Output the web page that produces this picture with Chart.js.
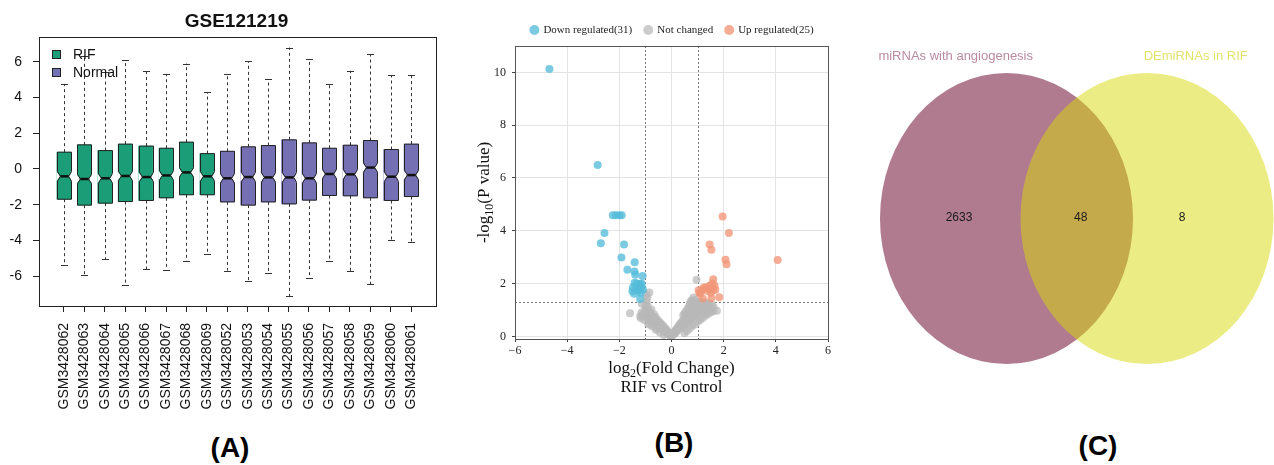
<!DOCTYPE html>
<html>
<head>
<meta charset="utf-8">
<script src="https://cdn.jsdelivr.net/npm/chart.js@4.4.0/dist/chart.umd.min.js"></script>
<style>
  body { margin: 0; background: #fff; width: 1274px; height: 465px; position: relative; overflow: hidden; }
  canvas { position: absolute; top: 0; }
  #boxChart { left: 0; }
  #volcanoChart { left: 460px; }
  #vennChart { left: 850px; }
  .tag { position: absolute; width: 80px; text-align: center; font: bold 28px "Liberation Sans", Arial, sans-serif; line-height: 32px; }
</style>
</head>
<body>
<canvas id="boxChart" width="450" height="420"></canvas>
<canvas id="volcanoChart" width="390" height="420"></canvas>
<canvas id="vennChart" width="424" height="420"></canvas>
<div class="tag" style="left:190px;top:432px">(A)</div>
<div class="tag" style="left:634px;top:427px">(B)</div>
<div class="tag" style="left:1058px;top:430px">(C)</div>

<script>
// ---- (A) expression boxplot, GSE121219 ----
const samples = ['GSM3428062', 'GSM3428063', 'GSM3428064', 'GSM3428065', 'GSM3428066', 'GSM3428067',
  'GSM3428068', 'GSM3428069', 'GSM3428052', 'GSM3428053', 'GSM3428054', 'GSM3428055', 'GSM3428056',
  'GSM3428057', 'GSM3428058', 'GSM3428059', 'GSM3428060', 'GSM3428061'];
const rifCount = 8;
const upperWhisker = [4.76, 6.3, 5.45, 6.07, 5.49, 5.32, 5.89, 4.31, 5.29, 6.02, 5.02, 6.79, 6.13, 4.76, 5.49, 6.41, 5.23, 5.27];
const q3 = [0.94, 1.35, 1.03, 1.39, 1.28, 1.16, 1.50, 0.86, 0.99, 1.24, 1.31, 1.63, 1.46, 1.16, 1.33, 1.59, 1.09, 1.39];
const medians = [-0.41, -0.56, -0.52, -0.39, -0.45, -0.36, -0.19, -0.41, -0.52, -0.45, -0.47, -0.47, -0.52, -0.28, -0.30, 0.08, -0.43, -0.34];
const q1 = [-1.69, -2.02, -1.91, -1.82, -1.76, -1.61, -1.44, -1.44, -1.84, -2.02, -1.84, -1.95, -1.74, -1.48, -1.50, -1.61, -1.76, -1.54];
const lowerWhisker = [-5.36, -5.94, -5.06, -6.49, -5.6, -5.64, -5.14, -4.74, -5.68, -6.26, -5.81, -7.12, -6.09, -5.16, -5.72, -6.45, -3.99, -4.09];
const boxTicks = [-6, -4, -2, 0, 2, 4, 6];
const notchHalf = 0.27;

const rifBoxes = [];
const normalBoxes = [];
samples.forEach((s, i) => {
  const item = { x: i + 1, y: [q1[i], q3[i]] };
  (i < rifCount ? rifBoxes : normalBoxes).push(item);
});

const sansFont = '"Liberation Sans", Arial, sans-serif';
const serifFont = '"Liberation Serif", "Times New Roman", serif';

// whiskers, notches, outlines and medians on top of the floating bars
const boxPlot = {
  id: 'boxPlot',
  afterDatasetsDraw(chart) {
    const { ctx, chartArea: a, scales: { y } } = chart;
    ctx.save();
    chart.data.datasets.forEach((ds, di) => {
      chart.getDatasetMeta(di).data.forEach((bar, j) => {
        const i = ds.data[j].x - 1;
        const cx = Math.round(bar.x) + 0.5;
        const hw = bar.width / 2;
        const inset = hw * 0.4;
        const top = y.getPixelForValue(q3[i]);
        const bot = y.getPixelForValue(q1[i]);
        const med = y.getPixelForValue(medians[i]);
        const nTop = y.getPixelForValue(medians[i] + notchHalf);
        const nBot = y.getPixelForValue(medians[i] - notchHalf);
        const hi = y.getPixelForValue(upperWhisker[i]);
        const lo = y.getPixelForValue(lowerWhisker[i]);

        ctx.strokeStyle = '#333';
        ctx.lineWidth = 1;
        ctx.setLineDash([3, 3]);
        ctx.beginPath();
        ctx.moveTo(cx, top); ctx.lineTo(cx, hi);
        ctx.moveTo(cx, bot); ctx.lineTo(cx, lo);
        ctx.stroke();
        ctx.setLineDash([]);
        ctx.beginPath();
        ctx.moveTo(cx - hw / 2, Math.round(hi) + 0.5); ctx.lineTo(cx + hw / 2, Math.round(hi) + 0.5);
        ctx.moveTo(cx - hw / 2, Math.round(lo) + 0.5); ctx.lineTo(cx + hw / 2, Math.round(lo) + 0.5);
        ctx.stroke();

        ctx.fillStyle = '#fff';
        ctx.beginPath();
        ctx.moveTo(cx - hw - 1, nTop); ctx.lineTo(cx - hw + inset, med); ctx.lineTo(cx - hw - 1, nBot);
        ctx.closePath();
        ctx.moveTo(cx + hw + 1, nTop); ctx.lineTo(cx + hw - inset, med); ctx.lineTo(cx + hw + 1, nBot);
        ctx.closePath();
        ctx.fill();

        ctx.strokeStyle = '#222';
        ctx.beginPath();
        ctx.moveTo(cx - hw, top); ctx.lineTo(cx + hw, top); ctx.lineTo(cx + hw, nTop);
        ctx.lineTo(cx + hw - inset, med); ctx.lineTo(cx + hw, nBot); ctx.lineTo(cx + hw, bot);
        ctx.lineTo(cx - hw, bot); ctx.lineTo(cx - hw, nBot); ctx.lineTo(cx - hw + inset, med);
        ctx.lineTo(cx - hw, nTop);
        ctx.closePath();
        ctx.stroke();

        ctx.lineWidth = 2.5;
        ctx.strokeStyle = '#111';
        ctx.beginPath();
        ctx.moveTo(cx - hw + inset, med); ctx.lineTo(cx + hw - inset, med);
        ctx.stroke();
      });
    });

    // frame, title and legend
    ctx.lineWidth = 1;
    ctx.strokeStyle = '#222';
    ctx.strokeRect(Math.round(a.left) + 0.5, Math.round(a.top) + 0.5, Math.round(a.right - a.left), Math.round(a.bottom - a.top));
    ctx.fillStyle = '#111';
    ctx.font = 'bold 19px ' + sansFont;
    ctx.textAlign = 'center';
    ctx.textBaseline = 'middle';
    ctx.fillText('GSE121219', (a.left + a.right) / 2 - 1, 22);

    ctx.font = '14px ' + sansFont;
    ctx.textAlign = 'left';
    chart.data.datasets.forEach((ds, k) => {
      const ly = 55 + k * 18;
      ctx.fillStyle = ds.backgroundColor;
      ctx.fillRect(52.5, ly - 4.5, 8, 8);
      ctx.strokeStyle = '#222';
      ctx.strokeRect(52.5, ly - 4.5, 8, 8);
      ctx.fillStyle = '#111';
      ctx.fillText(ds.label, 73, ly);
    });
    ctx.restore();
  }
};

new Chart(document.getElementById('boxChart'), {
  type: 'bar',
  data: {
    datasets: [
      { label: 'RIF', data: rifBoxes, backgroundColor: '#1b9e77' },
      { label: 'Normal', data: normalBoxes, backgroundColor: '#7570b3' }
    ]
  },
  options: {
    responsive: false,
    animation: false,
    layout: { padding: { top: 37, right: 14, left: 0, bottom: 0 } },
    datasets: { bar: { grouped: false, barThickness: 14, borderWidth: 0 } },
    plugins: { legend: { display: false }, tooltip: { enabled: false } },
    scales: {
      x: {
        type: 'linear',
        offset: false,
        min: -0.22,
        max: 19.22,
        afterBuildTicks: s => { s.ticks = samples.map((n, i) => ({ value: i + 1 })); },
        afterFit: s => { s.height = 114; },
        ticks: {
          autoSkip: false, minRotation: 90, maxRotation: 90, padding: 11,
          color: '#111', font: { family: sansFont, size: 14 },
          callback: (v, i) => samples[i]
        },
        grid: { offset: false, drawOnChartArea: false, tickLength: 6, tickColor: '#222' },
        border: { color: '#222' }
      },
      y: {
        min: -7.66,
        max: 7.38,
        afterBuildTicks: s => { s.ticks = boxTicks.map(v => ({ value: v })); },
        afterFit: s => { s.width = 39; },
        ticks: { padding: 11, color: '#111', font: { family: sansFont, size: 14 } },
        grid: { drawOnChartArea: false, tickLength: 6, tickColor: '#222' },
        border: { color: '#222' }
      }
    }
  },
  plugins: [boxPlot]
});

// ---- (B) volcano plot, RIF vs Control ----
const downRegulated = [
  [-4.68, 10.13], [-2.83, 6.49], [-2.25, 4.59], [-2.13, 4.59], [-2.0, 4.59], [-1.91, 4.59],
  [-2.57, 3.92], [-2.71, 3.53], [-1.82, 3.48], [-1.92, 2.99], [-1.41, 2.81], [-1.69, 2.52],
  [-1.42, 2.46], [-1.39, 2.33], [-1.11, 2.29], [-1.41, 2.03], [-1.20, 1.99], [-1.14, 1.99],
  [-1.50, 1.71], [-1.30, 1.77], [-1.23, 1.82], [-1.16, 1.87], [-1.43, 1.61], [-1.20, 1.42],
  [-1.09, 1.77], [-1.27, 1.73], [-1.36, 1.80], [-1.25, 1.95], [-1.33, 2.0], [-1.18, 1.65], [-1.48, 1.85]
];
const upRegulated = [
  [1.96, 4.54], [2.20, 3.92], [1.46, 3.48], [1.53, 3.28], [2.07, 2.90], [2.11, 2.73], [4.07, 2.89],
  [1.60, 2.16], [1.57, 2.0], [1.32, 1.86], [1.18, 1.76], [1.04, 1.75], [1.10, 1.61], [1.20, 1.43],
  [1.53, 1.44], [1.83, 1.48], [1.68, 1.77], [1.59, 1.75], [1.46, 1.92], [1.65, 1.92], [1.41, 1.80],
  [1.23, 1.84], [1.07, 1.65], [1.51, 1.65], [1.38, 1.72]
];
const notChanged = [
  [-1.59, 0.88], [-0.85, 1.66], [-0.92, 1.46], [-0.97, 1.58], [-1.14, 1.24], [-1.08, 0.76], [-1.12, 0.82],
  [-1.04, 0.94], [-0.99, 1.06], [-0.97, 0.74], [-0.94, 0.88], [-0.91, 1.14], [-0.89, 0.98], [-0.87, 0.8],
  [-0.85, 0.64], [-0.83, 0.92], [-0.81, 0.72], [-0.79, 0.86], [-0.77, 1.02], [-0.75, 0.6], [-0.73, 0.76],
  [-0.71, 0.54], [-0.69, 0.69], [-0.67, 0.84], [-0.65, 0.5], [-0.63, 0.61], [-0.61, 0.73], [-0.59, 0.46],
  [-0.57, 0.56], [-0.55, 0.64], [-0.53, 0.39], [-0.51, 0.49], [-0.49, 0.57], [-0.47, 0.35], [-0.45, 0.43],
  [-0.43, 0.51], [-0.41, 0.31], [-0.39, 0.38], [-0.37, 0.45], [-0.35, 0.26], [-0.33, 0.33], [-0.31, 0.39],
  [-0.29, 0.21], [-0.27, 0.28], [-0.25, 0.31], [-0.23, 0.16], [-0.21, 0.22], [-0.19, 0.25], [-0.17, 0.12],
  [-0.15, 0.17], [-0.13, 0.09], [-0.11, 0.13], [-0.09, 0.06], [-0.07, 0.08], [-0.05, 0.04], [-0.03, 0.02],
  [-0.95, 1.3], [-1.0, 1.18], [-0.9, 0.62], [-0.8, 0.55], [-0.7, 0.42], [-1.2, 0.76], [-1.15, 0.9],
  [-0.3, 0.05], [-0.45, 0.15], [-0.6, 0.25], [-0.75, 0.38], [-0.9, 0.5], [-1.05, 0.62], [-1.18, 0.7],
  [-0.55, 0.3], [-0.85, 0.45],
  [0.02, 0.02], [0.04, 0.05], [0.06, 0.09], [0.08, 0.11], [0.1, 0.15], [0.12, 0.1], [0.14, 0.21],
  [0.16, 0.16], [0.18, 0.26], [0.2, 0.2], [0.22, 0.31], [0.24, 0.23], [0.26, 0.37], [0.28, 0.3],
  [0.3, 0.43], [0.32, 0.35], [0.34, 0.49], [0.36, 0.41], [0.38, 0.31], [0.4, 0.56], [0.42, 0.46],
  [0.44, 0.38], [0.46, 0.63], [0.48, 0.51], [0.5, 0.43], [0.52, 0.71], [0.54, 0.59], [0.56, 0.49],
  [0.58, 0.79], [0.6, 0.66], [0.62, 0.53], [0.64, 0.86], [0.66, 0.73], [0.68, 0.59], [0.7, 0.93],
  [0.72, 1.28], [0.72, 0.79], [0.74, 0.63], [0.76, 1.01], [0.78, 0.86], [0.8, 0.69], [0.82, 1.09],
  [0.84, 1.47], [0.84, 0.91], [0.86, 0.76], [0.88, 1.16], [0.9, 0.99], [0.92, 0.81], [0.94, 1.21],
  [0.96, 2.14], [0.96, 1.06], [0.98, 0.89], [1.0, 1.26], [1.02, 1.11], [1.05, 0.93], [1.08, 1.31],
  [1.1, 1.16], [1.12, 0.99], [1.15, 1.23], [1.18, 1.06], [1.2, 1.29], [1.22, 0.96], [1.25, 1.16],
  [1.28, 1.27], [1.3, 1.01], [1.35, 1.21], [1.4, 1.11], [1.45, 1.26], [1.5, 1.06], [1.55, 1.19],
  [1.74, 0.97], [0.76, 1.36], [0.9, 1.38], [0.66, 1.1],
  [0.6, 0.2], [0.7, 0.3], [0.8, 0.4], [0.9, 0.45], [1.0, 0.55], [1.1, 0.62], [1.2, 0.7], [1.3, 0.78],
  [1.4, 0.85], [1.5, 0.9], [1.6, 0.95], [0.5, 0.12], [1.05, 0.7], [1.25, 0.85], [1.45, 1.0], [1.62, 1.1],
  [0.45, 0.8], [0.55, 0.95], [0.62, 1.05], [0.7, 1.2], [0.5, 0.88], [0.78, 1.3]
];
const foldTicks = [-6, -4, -2, 0, 2, 4, 6];
const pTicks = [0, 2, 4, 6, 8, 10];
const foldCut = 1;
const pCut = 1.3;

const toPoints = arr => arr.map(([x, y]) => ({ x, y }));

// threshold lines, frame, legend and axis titles with subscripts
const volcanoDecor = {
  id: 'volcanoDecor',
  beforeDatasetsDraw(chart) {
    const { ctx, chartArea: a, scales: { x, y } } = chart;
    ctx.save();
    ctx.strokeStyle = '#777';
    ctx.lineWidth = 1;
    ctx.setLineDash([2, 2]);
    ctx.beginPath();
    [-foldCut, foldCut].forEach(v => {
      const px = Math.round(x.getPixelForValue(v)) + 0.5;
      ctx.moveTo(px, a.top); ctx.lineTo(px, a.bottom);
    });
    const py = Math.round(y.getPixelForValue(pCut)) + 0.5;
    ctx.moveTo(a.left, py); ctx.lineTo(a.right, py);
    ctx.stroke();
    ctx.restore();
  },
  afterDraw(chart) {
    const { ctx, chartArea: a } = chart;
    ctx.save();
    ctx.strokeStyle = '#555';
    ctx.lineWidth = 1;
    ctx.strokeRect(Math.round(a.left) + 0.5, Math.round(a.top) + 0.5, Math.round(a.right - a.left), Math.round(a.bottom - a.top));

    // legend across the top
    ctx.font = '11px ' + serifFont;
    ctx.textBaseline = 'middle';
    ctx.textAlign = 'left';
    const items = chart.data.datasets.map(ds => ({ ds, w: 14 + ctx.measureText(ds.label).width }));
    const total = items.reduce((s, it) => s + it.w, 0) + 11 * (items.length - 1);
    let lx = (a.left + a.right) / 2 - total / 2;
    items.forEach(it => {
      ctx.fillStyle = it.ds.backgroundColor;
      ctx.beginPath();
      ctx.arc(lx + 5, 30, 5, 0, Math.PI * 2);
      ctx.fill();
      ctx.fillStyle = '#222';
      ctx.fillText(it.ds.label, lx + 14, 30.5);
      lx += it.w + 11;
    });

    // x title: log2(Fold Change) / RIF vs Control
    ctx.fillStyle = '#111';
    ctx.font = '17px ' + serifFont;
    const cx = (a.left + a.right) / 2;
    const wLog = ctx.measureText('log').width;
    const wRest = ctx.measureText('(Fold Change)').width;
    ctx.font = '12px ' + serifFont;
    const wSub = ctx.measureText('2').width;
    let sx = cx - (wLog + wSub + wRest) / 2;
    ctx.textBaseline = 'alphabetic';
    ctx.font = '17px ' + serifFont;
    ctx.fillText('log', sx, 373);
    ctx.font = '12px ' + serifFont;
    ctx.fillText('2', sx + wLog, 377);
    ctx.font = '17px ' + serifFont;
    ctx.fillText('(Fold Change)', sx + wLog + wSub, 373);
    ctx.textAlign = 'center';
    ctx.fillText('RIF vs Control', cx, 392);

    // y title: -log10(P value)
    ctx.translate(29, (a.top + a.bottom) / 2);
    ctx.rotate(-Math.PI / 2);
    ctx.textAlign = 'left';
    const wA = ctx.measureText('-log').width;
    const wB = ctx.measureText('(P value)').width;
    ctx.font = '12px ' + serifFont;
    const wC = ctx.measureText('10').width;
    sx = -(wA + wB + wC) / 2;
    ctx.font = '17px ' + serifFont;
    ctx.fillText('-log', sx, 0);
    ctx.font = '12px ' + serifFont;
    ctx.fillText('10', sx + wA, 4);
    ctx.font = '17px ' + serifFont;
    ctx.fillText('(P value)', sx + wA + wC, 0);
    ctx.restore();
  }
};

new Chart(document.getElementById('volcanoChart'), {
  type: 'scatter',
  data: {
    datasets: [
      { label: 'Down regulated(' + downRegulated.length + ')', data: toPoints(downRegulated), backgroundColor: 'rgba(84, 188, 218, 0.78)', order: 0 },
      { label: 'Not changed', data: toPoints(notChanged), backgroundColor: 'rgba(185, 185, 185, 0.72)', order: 2 },
      { label: 'Up regulated(' + upRegulated.length + ')', data: toPoints(upRegulated), backgroundColor: 'rgba(242, 150, 120, 0.78)', order: 1 }
    ]
  },
  options: {
    responsive: false,
    animation: false,
    layout: { padding: { top: 46, right: 22, left: 0, bottom: 0 } },
    elements: { point: { radius: 4, borderWidth: 0 } },
    plugins: { legend: { display: false }, tooltip: { enabled: false } },
    scales: {
      x: {
        min: -6, max: 6,
        afterBuildTicks: s => { s.ticks = foldTicks.map(v => ({ value: v })); },
        afterFit: s => { s.height = 81; },
        ticks: { padding: 2, color: '#222', font: { family: serifFont, size: 12 },
          callback: v => (v < 0 ? '\u2212' + Math.abs(v) : String(v)) },
        grid: { color: '#e4e4e4', tickLength: 3, tickColor: '#444' },
        border: { color: '#444' }
      },
      y: {
        min: -0.1, max: 11,
        afterBuildTicks: s => { s.ticks = pTicks.map(v => ({ value: v })); },
        afterFit: s => { s.width = 55; },
        ticks: { padding: 6, color: '#222', font: { family: serifFont, size: 12 } },
        grid: { color: '#e4e4e4', tickLength: 3, tickColor: '#444' },
        border: { color: '#444' }
      }
    }
  },
  plugins: [volcanoDecor]
});

// ---- (C) Venn diagram ----
const vennSets = ['miRNAs with angiogenesis', 'DEmiRNAs in RIF'];
const vennCounts = [2633, 48, 8];   // only left, shared, only right

const vennLayout = {
  centers: [[156.5, 218.5], [297, 218.5]],
  rx: 126.5, ry: 145.5,
  fills: ['rgb(176, 123, 143)', 'rgba(218, 218, 10, 0.5)'],
  titleColors: ['#b98aa0', '#e3e370'],
  titlePos: [[105.7, 56], [345.7, 56]],
  countPos: [[109, 218], [230.7, 218], [332, 218]]
};

const vennDraw = {
  id: 'vennDraw',
  afterDraw(chart) {
    const { ctx, scales: { x, y } } = chart;
    const L = vennLayout;
    ctx.save();
    L.centers.forEach(([cx, cy], k) => {
      const px = x.getPixelForValue(cx);
      const py = y.getPixelForValue(cy);
      const rx = Math.abs(x.getPixelForValue(cx + L.rx) - px);
      const ry = Math.abs(y.getPixelForValue(cy + L.ry) - py);
      ctx.fillStyle = L.fills[k];
      ctx.beginPath();
      ctx.ellipse(px, py, rx, ry, 0, 0, Math.PI * 2);
      ctx.fill();
    });
    ctx.textAlign = 'center';
    ctx.textBaseline = 'middle';
    ctx.font = '13px ' + sansFont;
    vennSets.forEach((name, k) => {
      ctx.fillStyle = L.titleColors[k];
      ctx.fillText(name, x.getPixelForValue(L.titlePos[k][0]), y.getPixelForValue(L.titlePos[k][1]));
    });
    ctx.font = '12px ' + sansFont;
    ctx.fillStyle = '#1a1a1a';
    vennCounts.forEach((n, k) => {
      ctx.fillText(String(n), x.getPixelForValue(L.countPos[k][0]), y.getPixelForValue(L.countPos[k][1]));
    });
    ctx.restore();
  }
};

new Chart(document.getElementById('vennChart'), {
  type: 'scatter',
  data: { datasets: vennSets.map(name => ({ label: name, data: [] })) },
  options: {
    responsive: false,
    animation: false,
    layout: { padding: 0 },
    plugins: { legend: { display: false }, tooltip: { enabled: false } },
    scales: {
      x: { display: false, min: 0, max: 424 },
      y: { display: false, min: 0, max: 420, reverse: true }
    }
  },
  plugins: [vennDraw]
});
</script>
</body>
</html>
